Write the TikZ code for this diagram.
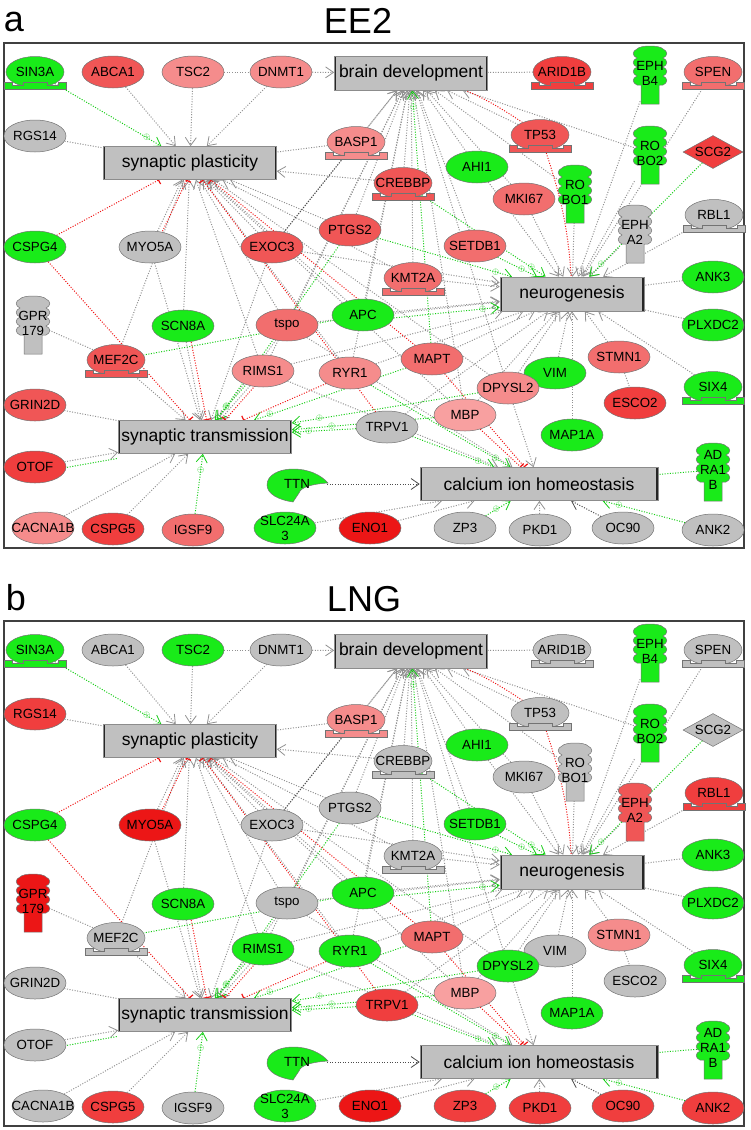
\documentclass[tikz,border=0pt]{standalone}
\usepackage{fontspec}
\setmainfont{Liberation Sans}
\usetikzlibrary{shapes.geometric,arrows.meta,decorations.markings,backgrounds}

\definecolor{gn}{RGB}{25,235,25}
\definecolor{gy}{RGB}{192,192,192}
\definecolor{rA}{RGB}{236,22,22}
\definecolor{rB}{RGB}{240,62,62}
\definecolor{rC}{RGB}{240,86,86}
\definecolor{rD}{RGB}{242,110,110}
\definecolor{rE}{RGB}{245,140,140}
\definecolor{rF}{RGB}{248,160,160}
\definecolor{edgegray}{RGB}{145,145,145}
\definecolor{edgegreen}{RGB}{20,205,20}
\definecolor{edgered}{RGB}{240,20,20}

\tikzset{
  lab/.style={font=\fontsize{13.3}{15}\selectfont},
  gene/.style={lab, ellipse, draw=black!55, line width=0.5pt, minimum width=62pt,
    minimum height=32pt, inner sep=-12pt, align=center},
  rec/.style={lab, rectangle, minimum width=32pt, minimum height=56pt, inner sep=0pt, align=center},
  hub/.style={rectangle, draw=black!45, line width=0.6pt, fill=gy, inner sep=0pt,
    font=\fontsize{17.5}{17.5}\selectfont,
    path picture={\draw[black!85, line width=3.2pt]
      (path picture bounding box.north west) -- (path picture bounding box.south west)
      (path picture bounding box.north east) -- (path picture bounding box.south east);}},
  title/.style={font=\fontsize{36}{36}\selectfont, inner sep=0pt},
  assoc/.style={draw=edgegray, line width=1pt, dash pattern=on 1pt off 1.6pt},
  leads/.style={assoc, -{Straight Barb[length=8pt,width=11pt,line width=0.8pt]}},
  dassoc/.style={assoc, draw=black!70},
  dleads/.style={leads, draw=black!70},
  gassoc/.style={assoc, draw=edgegreen},
  activ/.style={leads, draw=edgegreen, postaction={decorate, decoration={markings,
    mark=at position -#1 with {\node[text=edgegreen, inner sep=0pt,
      font=\fontsize{9}{9}\selectfont] {$\oplus$};}}}},
  activ/.default=17pt,
  inhib/.style={assoc, draw=edgered, -{Bar[width=9pt,line width=1.2pt]}}
}

\newcommand{\setcolours}[1]{\foreach \n/\col in {#1} {\xglobal\colorlet{c-\n}{\col}}}

\newcommand{\tfgene}[3]{%
  \node[gene, fill=c-#1, minimum width=58pt, minimum height=31pt] (#1) at (#2,#3) {#1};
  \filldraw[fill=c-#1, draw=black!55, line width=0.5pt, shift={(#2,#3)}]
    (-31,10) -- (-31,17) -- (31,17) -- (31,10) -- (23,10) -- (23,13.5) -- (12,13.5) -- (12,10)
    -- (-12,10) -- (-12,13.5) -- (-23,13.5) -- (-23,10) -- cycle;}

\newcommand{\recgene}[4]{%
  \filldraw[fill=c-#1, draw=black!55, line width=0.5pt, shift={(#2,#3)}]
    (-9,31) -- (-9,12) -- (-13,12)
    .. controls (-18,10) and (-18,5) .. (-13,3)
    .. controls (-18,1) and (-18,-4) .. (-13,-6)
    .. controls (-18,-8) and (-18,-13) .. (-13,-15)
    .. controls (-18,-17) and (-18,-22) .. (-13,-24)
    .. controls (-10,-28) and (10,-28) .. (13,-24)
    .. controls (18,-22) and (18,-17) .. (13,-15)
    .. controls (18,-13) and (18,-8) .. (13,-6)
    .. controls (18,-4) and (18,1) .. (13,3)
    .. controls (18,5) and (18,10) .. (13,12)
    -- (9,12) -- (9,31) -- cycle;
  \node[rec] (#1) at (#2,#3) {#4};}

\newcommand{\network}{%
  \draw[black!75, line width=1.2pt] (4,43) rectangle (744,548);
  \node[hub, minimum width=153pt, minimum height=34pt] (bd) at (411,73) {brain development};
  \node[hub, minimum width=173pt, minimum height=33pt] (sp) at (190,163) {synaptic plasticity};
  \node[hub, minimum width=144pt, minimum height=34pt] (ng) at (572,294) {neurogenesis};
  \node[hub, minimum width=173pt, minimum height=33pt] (st) at (205,437) {synaptic transmission};
  \node[hub, minimum width=238pt, minimum height=33pt] (ca) at (539,484) {calcium ion homeostasis};
  \foreach \n/\x/\y in {ABCA1/113/72, TSC2/193/72, DNMT1/281/72, RGS14/35/136, AHI1/477/167,
      MKI67/524/199, CSPG4/35/247, MYO5A/150/247, EXOC3/272/247, PTGS2/350/230, SETDB1/475/246,
      ANK3/713/277, PLXDC2/713/325, APC/363/315, tspo/287/325, SCN8A/183/326, RIMS1/263/371,
      RYR1/350/373, MAPT/432/359, VIM/555/373, DPYSL2/508/388, STMN1/619/357, ESCO2/635/403,
      MBP/465/415, TRPV1/387/427, MAP1A/572/435, GRIN2D/35/405, OTOF/35/467, CACNA1B/43/528,
      CSPG5/113/529, IGSF9/193/530, ENO1/370/528, ZP3/465/528, PKD1/540/530, OC90/623/528,
      ANK2/713/530}
    \node[gene, fill=c-\n] (\n) at (\x,\y) {\n};
  \node[gene, fill=c-SLC24A3] (SLC24A3) at (285,528) {SLC24A\\3};
  \foreach \n/\x/\y in {SIN3A/35/72, ARID1B/562/72, SPEN/713/72, BASP1/356/142, TP53/540/135,
      CREBBP/403/183, RBL1/714/215, KMT2A/413/278, MEF2C/116/360, SIX4/713/387}
    {\tfgene{\n}{\x}{\y}}
  \foreach \n/\x/\y/\txt in {EPHB4/650/73/{EPH\\B4}, ROBO2/650/153/{RO\\BO2},
      ROBO1/575/192/{RO\\BO1}, EPHA2/635/232/{EPH\\A2}, GPR179/33/323/{GPR\\179},
      ADRA1B/713/470/{AD\\RA1\\B}}
    {\recgene{\n}{\x}{\y}{\txt}}
  \node[lab, diamond, draw=black!55, line width=0.5pt, fill=c-SCG2, minimum width=60pt,
    minimum height=33pt, inner sep=-8pt, aspect=1.8] (SCG2) at (713,152) {SCG2};
  \filldraw[fill=c-TTN, draw=black!55, line width=0.5pt, shift={(297,485)}]
    (31,-2) .. controls (15,-1) and (4,2) .. (2,8) .. controls (0,11) and (-2,14) .. (-4,17)
    .. controls (-18,15) and (-30,9) .. (-30,0) .. controls (-30,-10) and (-18,-16) .. (-4,-16)
    .. controls (12,-16) and (24,-10) .. (31,-2) -- cycle;
  \node[lab, ellipse, minimum width=60pt, minimum height=32pt, inner sep=-12pt] (TTN) at (297,484) {TTN};
  \begin{scope}[on background layer]
    \foreach \src/\dst in {ABCA1/sp, TSC2/sp, DNMT1/sp, CREBBP/sp, MYO5A/sp, EXOC3/sp, PTGS2/sp,
        SCN8A/sp, tspo/sp, RIMS1/sp, RYR1/sp, APC/sp, DPYSL2/sp, KMT2A/sp, MBP/sp, MEF2C/sp,
        DNMT1/bd, BASP1/bd, CREBBP/bd, TP53/bd, ROBO2/bd, AHI1/bd, MKI67/bd, SETDB1/bd, PTGS2/bd,
        EXOC3/bd, KMT2A/bd, APC/bd, RYR1/bd, tspo/bd, DPYSL2/bd, RIMS1/bd, ROBO1/bd, MBP/bd,
        APC/ng, KMT2A/ng, AHI1/ng, MKI67/ng, ROBO1/ng, EPHB4/ng, ROBO2/ng, EPHA2/ng, SPEN/ng,
        RBL1/ng, SIX4/ng, STMN1/ng, VIM/ng, MAP1A/ng, DPYSL2/ng, MAPT/ng, RYR1/ng, tspo/ng,
        EXOC3/ng, MBP/ng, TRPV1/ng, RIMS1/ng,
        OTOF/st, CACNA1B/st, CSPG5/st, MEF2C/st, SCN8A/st, MYO5A/st, RIMS1/st, tspo/st, EXOC3/st,
        SLC24A3/ca, ENO1/ca, PKD1/ca, DPYSL2/ca, RIMS1/ca, tspo/ca}
      \draw[leads] (\src) -- (\dst);
    \foreach \src/\dst in {RGS14/sp, BASP1/sp, TSC2/DNMT1, ARID1B/bd, ANK3/ng, PLXDC2/ng,
        STMN1/ESCO2, GPR179/MEF2C, GRIN2D/st}
      \draw[assoc] (\src) -- (\dst);
    \draw[dassoc] (BASP1) -- (EXOC3);
    \draw[dleads] (TTN) -- (ca);
    \draw[dleads] (OC90) -- (ca);
    \draw[gassoc] (APC) -- (MEF2C);
    \draw[gassoc] (ADRA1B) -- (ca);
    \draw[gassoc, transform canvas={yshift=-6pt}] (OTOF) -- (st);
    \foreach \src/\dst in {SIN3A/sp, MAPT/bd, CREBBP/ng, SETDB1/ng, PTGS2/ng, SCG2/ng, IGSF9/st,
        PTGS2/st, MAPT/st, TRPV1/st, ZP3/ca, ANK2/ca, TRPV1/ca, RYR1/ca}
      \draw[activ] (\src) -- (\dst);
    \draw[activ=28pt] (DPYSL2) -- (st);
    \draw[activ=40pt] (MBP) -- (st);
    \draw[activ, transform canvas={yshift=-6pt}] (APC) -- (ng);
    \draw[activ, transform canvas={xshift=-5pt}] (RIMS1) -- (st);
    \foreach \src/\dst in {CSPG4/sp, MAPT/sp, TRPV1/sp, CSPG4/st, RYR1/st, MBP/ca, MAPT/ca}
      \draw[inhib] (\src) -- (\dst);
    \draw[inhib, transform canvas={xshift=5pt}] (MYO5A) -- (sp);
    \draw[inhib, transform canvas={xshift=5pt}] (SCN8A) -- (st);
    \draw[inhib, transform canvas={xshift=5pt}] (RIMS1) -- (st);
    \draw[inhib] (TP53) to[bend right=10] (bd);
    \draw[inhib] (TP53) to[bend left=8] (ng);
  \end{scope}
}

\begin{document}
\begin{tikzpicture}[x=1pt, y=-1pt]
  \useasboundingbox (0,0) rectangle (750,1130);
  \setcolours{SIN3A/gn, ABCA1/rC, TSC2/rE, DNMT1/rE, ARID1B/rB, EPHB4/gn, SPEN/rD, RGS14/gy,
    BASP1/rE, TP53/rC, ROBO2/gn, SCG2/rB, AHI1/gn, CREBBP/rC, MKI67/rD, ROBO1/gn, EPHA2/gy,
    RBL1/gy, CSPG4/gn, MYO5A/gy, EXOC3/rC, PTGS2/rC, SETDB1/rD, KMT2A/rD, ANK3/gn, PLXDC2/gn,
    GPR179/gy, SCN8A/gn, tspo/rD, APC/gn, MEF2C/rC, RIMS1/rE, RYR1/rE, MAPT/rD, DPYSL2/rE,
    VIM/gn, STMN1/rD, ESCO2/rB, SIX4/gn, MBP/rF, TRPV1/gy, MAP1A/gn, GRIN2D/rC, OTOF/rB,
    TTN/gn, ADRA1B/gn, CACNA1B/rE, CSPG5/rB, IGSF9/rD, SLC24A3/gn, ENO1/rA, ZP3/gy, PKD1/gy,
    OC90/gy, ANK2/gy}
  \begin{scope}[name prefix=a-]
    \node[title] (tag) at (14,22) {a};
    \node[title] (head) at (358,21) {EE2};
    \network
  \end{scope}
  \setcolours{SIN3A/gn, ABCA1/gy, TSC2/gn, DNMT1/gy, ARID1B/gy, EPHB4/gn, SPEN/gy, RGS14/rB,
    BASP1/rE, TP53/gy, ROBO2/gn, SCG2/gy, AHI1/gn, CREBBP/gy, MKI67/gy, ROBO1/gy, EPHA2/rC,
    RBL1/rB, CSPG4/gn, MYO5A/rA, EXOC3/gy, PTGS2/gy, SETDB1/gn, KMT2A/gy, ANK3/gn, PLXDC2/gn,
    GPR179/rA, SCN8A/gn, tspo/gy, APC/gn, MEF2C/gy, RIMS1/gn, RYR1/gn, MAPT/rD, DPYSL2/gn,
    VIM/gy, STMN1/rE, ESCO2/gy, SIX4/gn, MBP/rF, TRPV1/rB, MAP1A/gn, GRIN2D/gy, OTOF/gy,
    TTN/gn, ADRA1B/gn, CACNA1B/gy, CSPG5/rB, IGSF9/gy, SLC24A3/gn, ENO1/rA, ZP3/rB, PKD1/rB,
    OC90/rB, ANK2/rB}
  \begin{scope}[yshift=-578pt, name prefix=b-]
    \node[title] (tag) at (16,20) {b};
    \node[title] (head) at (364,21) {LNG};
    \network
  \end{scope}
\end{tikzpicture}
\end{document}
